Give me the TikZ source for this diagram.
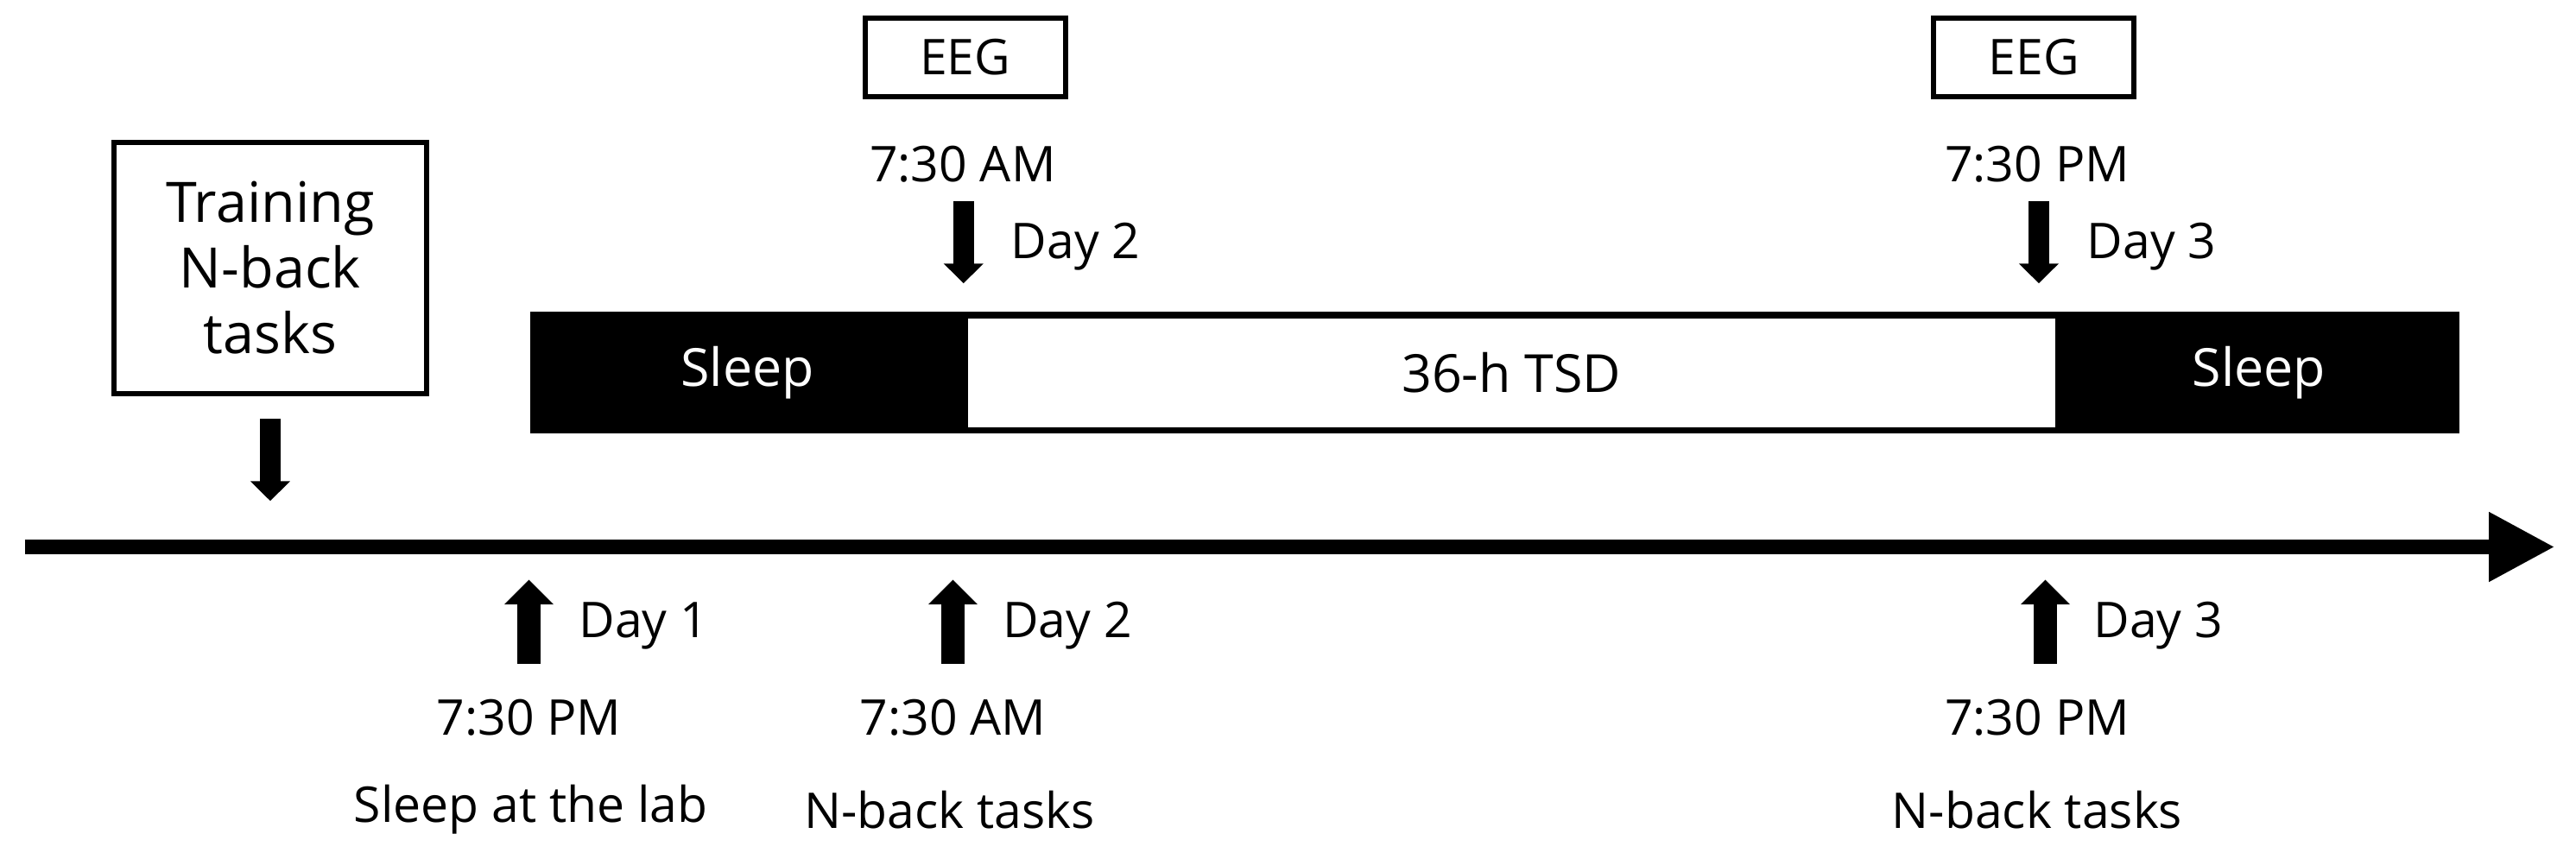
\documentclass[tikz,border=0pt]{standalone}
\usepackage{fontspec}
\setmainfont{Open Sans}
\usetikzlibrary{arrows.meta, positioning}

\begin{document}
\begin{tikzpicture}[
        x=0.5pt,
        y=-0.5pt,
        every node/.style={font=\fontsize{15}{18}\selectfont, inner sep=0pt},
        frame/.style={draw, line width=1.6pt, fill=white, align=center},
        sleep/.style={fill=black, text=white, minimum height=37pt, font=\fontsize{16}{19}\selectfont},
        awake/.style={draw, line width=2pt, fill=white, minimum height=35pt, font=\fontsize{16}{19}\selectfont},
        cue/.style={line width=6.25pt, -{Triangle[length=6pt, width=11.75pt]}},
        bigcue/.style={line width=7pt, -{Triangle[length=7.5pt, width=14.5pt]}},
        axis/.style={line width=4.5pt, -{Triangle[length=20pt, width=20pt]}},
        day/.style={anchor=west}
    ]
    \useasboundingbox (0,0) rectangle (1568,523);

    \node[frame, minimum width=95pt, minimum height=76.5pt, font=\fontsize{17}{20}\selectfont] (train) at (164.5,163) {Training\\N-back\\tasks};

    \node[sleep, minimum width=132pt] (s1) at (455,227) {Sleep};
    \node[awake, minimum width=333pt] (tsd) at (920,227) {36-h TSD};
    \node[sleep, minimum width=122pt] (s2) at (1375,227) {Sleep};

    \node[frame, minimum width=61pt, minimum height=24pt] (eeg1) at (587.5,35) {EEG};
    \node[frame, minimum width=61pt, minimum height=24pt] (eeg2) at (1238,35) {EEG};

    \node (am) at (586,100) {7:30 AM};
    \node (pm) at (1240,100) {7:30 PM};
    \node[day] (up2) at (615,150) {Day 2};
    \node[day] (up3) at (1270,150) {Day 3};

    \coordinate (go) at (15,333);
    \coordinate (end) at (1555,333);
    \draw[axis] (go) -- (end);

    \coordinate (ta) at (164.5,255);
    \coordinate (tb) at (164.5,305);
    \coordinate (ua) at (586.5,122.5);
    \coordinate (ub) at (586.5,172.5);
    \coordinate (va) at (1241,122.5);
    \coordinate (vb) at (1241,172.5);
    \draw[cue] (ta) -- (tb);
    \draw[cue] (ua) -- (ub);
    \draw[cue] (va) -- (vb);

    \coordinate (la) at (322,404);
    \coordinate (lb) at (322,353);
    \coordinate (ma) at (580,404);
    \coordinate (mb) at (580,353);
    \coordinate (na) at (1245,404);
    \coordinate (nb) at (1245,353);
    \draw[bigcue] (la) -- (lb);
    \draw[bigcue] (ma) -- (mb);
    \draw[bigcue] (na) -- (nb);

    \node[day] (lo1) at (352,381) {Day 1};
    \node[day] (lo2) at (610,381) {Day 2};
    \node[day] (lo3) at (1274,381) {Day 3};

    \node (pm1) at (322,437) {7:30 PM};
    \node (am2) at (580,437) {7:30 AM};
    \node (pm3) at (1240,437) {7:30 PM};

    \node (lab) at (323,493) {Sleep at the lab};
    \node (nb2) at (578,493) {N-back tasks};
    \node (nb3) at (1240,493) {N-back tasks};
\end{tikzpicture}
\end{document}
